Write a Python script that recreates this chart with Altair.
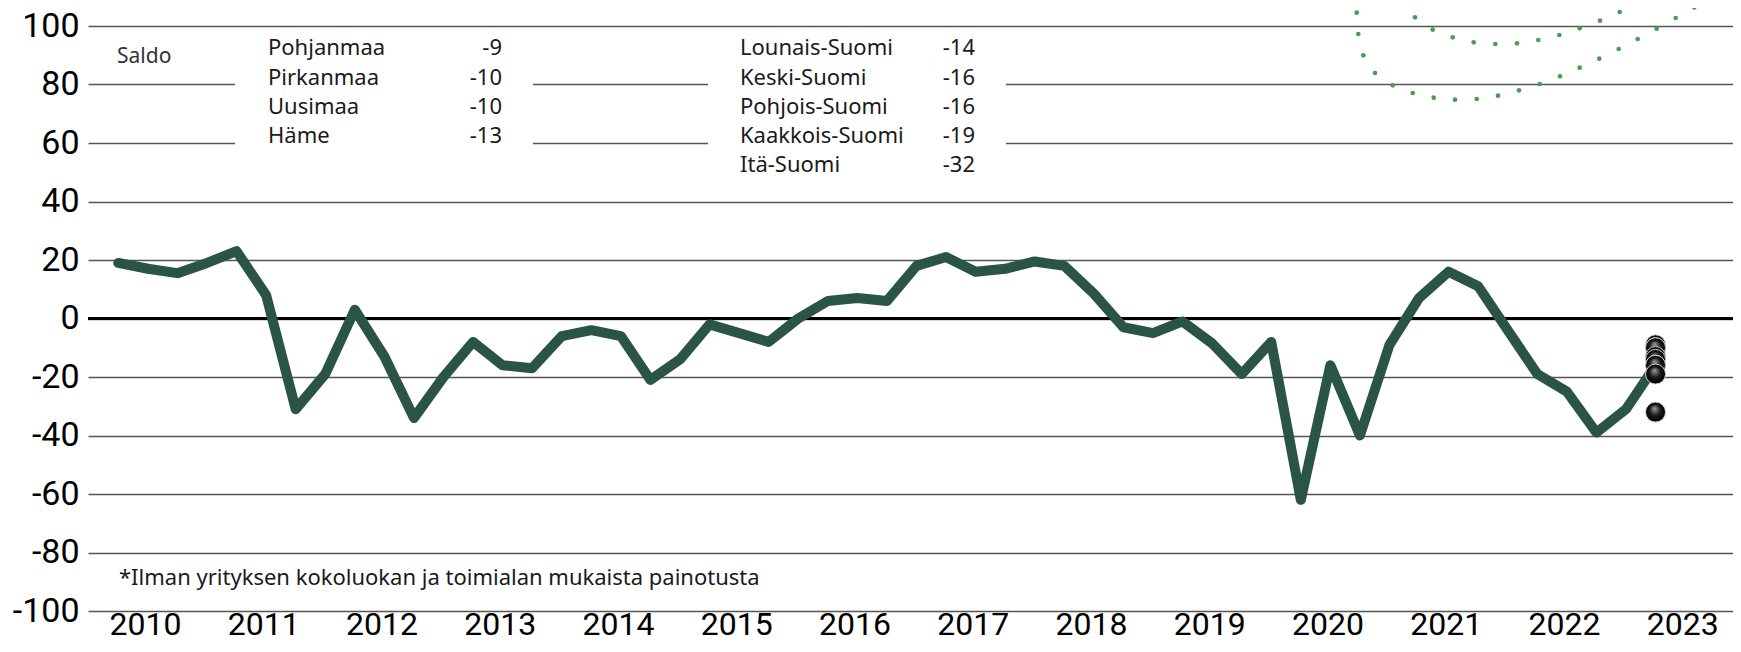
import json
import altair as alt
import pandas as pd

# ---------------- data ----------------
# quarterly balance figure (saldo), first point 2010, last point at the right end
saldo = [19, 17, 15.5, 19, 23, 8, -31, -19, 3, -13, -34, -20, -8, -16, -17,
         -6, -4, -6, -21, -14, -2, -5, -8, 0, 6, 7, 6, 18, 21,
         16, 17, 19.5, 18, 8.5, -3, -5, -1, -8.5, -19, -8, -62, -16, -40,
         -9, 7, 16, 11, -4, -19, -25, -39, -31, -16]

years = [2010, 2011, 2012, 2013, 2014, 2015, 2016, 2017, 2018, 2019, 2020, 2021, 2022, 2023]

regions = ["Pohjanmaa", "Pirkanmaa", "Uusimaa", "Häme",
           "Lounais-Suomi", "Keski-Suomi", "Pohjois-Suomi", "Kaakkois-Suomi", "Itä-Suomi"]
region_values = [-9, -10, -10, -13, -14, -16, -16, -19, -32]
region_column = [0, 0, 0, 0, 1, 1, 1, 1, 1]
region_row = [0, 1, 2, 3, 0, 1, 2, 3, 4]

footnote = "*Ilman yrityksen kokoluokan ja toimialan mukaista painotusta"
saldo_label = "Saldo"

# decorative dotted arcs at the top right (page pixel positions)
deco_x = [1356.7, 1358.3, 1363.3, 1375, 1392.7, 1412.7, 1433.7, 1455, 1476.7, 1498, 1519,
          1539.7, 1560, 1579.7, 1599.3, 1618.7, 1637.7, 1656.7, 1675.7, 1694.3,
          1403.3, 1415, 1432.7, 1452.7, 1473.7, 1495.3, 1517, 1538.3, 1559.3, 1579.7,
          1600, 1619.7, 1639.3]
deco_y = [12.7, 34, 55.3, 73, 85.3, 93, 97.7, 99.7, 99, 95.7, 90.3,
          84, 76.3, 67.7, 58.7, 49, 39, 28.7, 18, 7.3,
          0, 17.3, 29.7, 37.3, 42.3, 44, 43.3, 40, 35, 28.3,
          20.7, 12, 3]

# ---------------- layout / style ----------------
PAD_L, PAD_T, PAD_R, PAD_B = 80, 18, 0, 31
W, H = 1645, 585
FONT = "Noto Sans"
AXIS_FONT = "Roboto"
LINE_COLOR = "#295447"
TICK_OFFSET = 0.9

df = pd.DataFrame({"i": list(range(len(saldo))), "saldo": saldo})
last_i = len(saldo) - 1
dots = pd.DataFrame({"region": regions, "v": region_values, "i": [last_i] * len(regions)})
leg = pd.DataFrame({"name": regions, "val": [str(v) for v in region_values],
                    "col": region_column, "row": region_row})
deco = pd.DataFrame({"px": deco_x, "py": deco_y})

x_scale = alt.Scale(domain=[-1.025, 54.62], nice=False, zero=False)
y_scale = alt.Scale(domain=[-100, 100], nice=False)

tick_vals = [TICK_OFFSET + 4 * k for k in range(len(years))]
label_expr = f"{json.dumps([str(y) for y in years])}[round((datum.value - {TICK_OFFSET}) / 4)]"

x_axis = alt.Axis(values=tick_vals, labelExpr=label_expr, grid=False, domain=False, ticks=False,
                  labelFontSize=32, labelFont=AXIS_FONT, labelColor="#000000", labelBaseline="alphabetic",
                  labelPadding=23, title=None)
y_axis = alt.Axis(values=list(range(-100, 101, 20)), labelExpr="'' + datum.value",
                  grid=True, gridColor="#555555", gridWidth=1.5,
                  domain=False, ticks=False, labelFontSize=34, labelFont=AXIS_FONT, labelColor="#000000",
                  labelPadding=9, title=None)

base = alt.Chart(df)

line = base.mark_line(color=LINE_COLOR, strokeWidth=10, strokeJoin="round", strokeCap="round").encode(
    x=alt.X("i:Q", scale=x_scale, axis=x_axis),
    y=alt.Y("saldo:Q", scale=y_scale, axis=y_axis),
)

zero = alt.Chart(pd.DataFrame({"z": [0]})).mark_rule(color="#000000", strokeWidth=3).encode(
    y=alt.Y("z:Q", scale=y_scale)
)

# white boxes behind the two legend columns (hide the grid lines there)
box1 = alt.Chart(pd.DataFrame({"k": [0]})).mark_rect(color="white").encode(
    x=alt.value(147), x2=alt.value(445), y=alt.value(10), y2=alt.value(160))
box2 = alt.Chart(pd.DataFrame({"k": [0]})).mark_rect(color="white").encode(
    x=alt.value(620), x2=alt.value(918), y=alt.value(10), y2=alt.value(160))

leg_base = alt.Chart(leg).transform_calculate(ly="90 - 10 * datum.row")
txt_style = dict(baseline="alphabetic", font=FONT, fontSize=22, color="#1a1a1a")
names1 = leg_base.transform_filter("datum.col == 0").mark_text(align="left", **txt_style).encode(
    x=alt.value(180), y=alt.Y("ly:Q", scale=y_scale), text="name:N")
vals1 = leg_base.transform_filter("datum.col == 0").mark_text(align="right", **txt_style).encode(
    x=alt.value(414), y=alt.Y("ly:Q", scale=y_scale), text="val:N")
names2 = leg_base.transform_filter("datum.col == 1").mark_text(align="left", **txt_style).encode(
    x=alt.value(652), y=alt.Y("ly:Q", scale=y_scale), text="name:N")
vals2 = leg_base.transform_filter("datum.col == 1").mark_text(align="right", **txt_style).encode(
    x=alt.value(887), y=alt.Y("ly:Q", scale=y_scale), text="val:N")

saldo_txt = alt.Chart(pd.DataFrame({"t": [saldo_label], "y": [87.5]})).mark_text(
    align="left", baseline="alphabetic", font=FONT, fontSize=21, color="#333333").encode(
    x=alt.value(29), y=alt.Y("y:Q", scale=y_scale), text="t:N")

foot_txt = alt.Chart(pd.DataFrame({"t": [footnote], "y": [-91]})).mark_text(
    align="left", baseline="alphabetic", font=FONT, fontSize=22, color="#1a1a1a").encode(
    x=alt.value(31), y=alt.Y("y:Q", scale=y_scale), text="t:N")

grad = alt.RadialGradient(
    gradient="radial",
    stops=[alt.GradientStop(color="#a0a0a0", offset=0), alt.GradientStop(color="#1a1a1a", offset=0.55),
           alt.GradientStop(color="#000000", offset=1)],
    x1=0.45, y1=0.3, r1=0, x2=0.5, y2=0.5, r2=0.5)

dot_layer = alt.Chart(dots).mark_circle(size=400, fill=grad, stroke="#cfcfcf", strokeWidth=1,
                                        opacity=1).encode(
    x=alt.X("i:Q", scale=x_scale), y=alt.Y("v:Q", scale=y_scale))

deco_layer = alt.Chart(deco).transform_calculate(
    qx=f"datum.px - {PAD_L + 8}", qy=f"datum.py - {PAD_T + 8}"
).mark_circle(size=22, color="#4e9a50", opacity=1).encode(
    x=alt.X("qx:Q", scale=None, axis=None), y=alt.Y("qy:Q", scale=None, axis=None))

chart = alt.layer(
    zero, box1, box2, line, dot_layer, saldo_txt, names1, vals1, names2, vals2, foot_txt, deco_layer
).properties(
    width=W, height=H,
    padding={"left": PAD_L, "top": PAD_T, "right": PAD_R, "bottom": PAD_B},
    autosize=alt.AutoSizeParams(type="none"),
    background="white",
).configure_view(stroke=None)

chart.save("out.html", embed_options={"renderer": "svg", "actions": False})
